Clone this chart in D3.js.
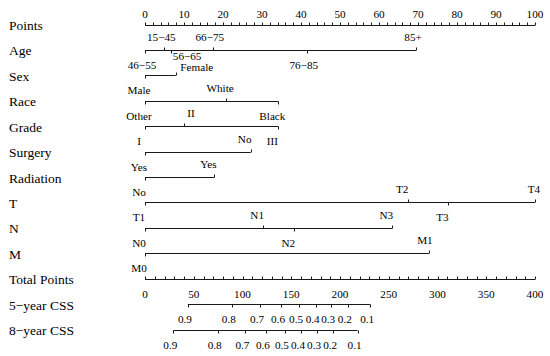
<!DOCTYPE html>
<html><head><meta charset="utf-8">
<script src="https://cdn.jsdelivr.net/npm/d3@7/dist/d3.min.js"></script>
<style>
html,body{margin:0;padding:0;background:#fff;}
svg{display:block;font-family:"Liberation Serif","Times New Roman",serif;}
</style></head>
<body><svg id="chart" width="550" height="356"></svg>
<script>
// ---- data ----
const rowTitles = ["Points","Age","Sex","Race","Grade","Surgery","Radiation","T","N","M","Total Points","5−year CSS","8−year CSS"];
const pointTicks = d3.range(0, 101, 2);
const pointLabels = d3.range(0, 101, 10);
const totalTicks = d3.range(0, 401, 10);
const totalLabels = d3.range(0, 401, 50);

const ageLevels = ["15−45","46−55","56−65","66−75","76−85","85+"];
const agePoints = [4.95, 0, 6.7, 17.4, 41.5, 69.5];
const sexLevels = ["Male","Female"];
const sexPoints = [0, 7.9];
const raceLevels = ["Other","White","Black"];
const racePoints = [0, 20.8, 34.2];
const gradeLevels = ["I","II","III"];
const gradePoints = [0, 10, 34.2];
const surgeryLevels = ["Yes","No"];
const surgeryPoints = [0, 27.1];
const radiationLevels = ["No","Yes"];
const radiationPoints = [0, 17.8];
const tLevels = ["T1","T2","T3","T4"];
const tPoints = [0, 67.5, 77.8, 100];
const nLevels = ["N0","N1","N2","N3"];
const nPoints = [0, 30.3, 38.3, 63.4];
const mLevels = ["M0","M1"];
const mPoints = [0, 72.8];

const cssLabels = ["0.9","0.8","0.7","0.6","0.5","0.4","0.3","0.2","0.1"];
const css5Total = [44, 89, 118, 139.5, 158, 175, 191, 208, 231];
const css8Total = [29, 74.5, 103, 124, 143.5, 160, 176.5, 193, 218];

// ---- layout ----
const svg = d3.select("#chart");
const xPts = d3.scaleLinear().domain([0, 100]).range([145, 535]);
const xTot = d3.scaleLinear().domain([0, 400]).range([145, 535]);
const rowY = d3.scaleLinear().domain([0, 12]).range([24.5, 329.5]);
const ink = "#1a1a1a";
const tick = 3;

// row titles
svg.append("g").selectAll("text").data(rowTitles).join("text")
  .attr("x", 9).attr("y", (d, i) => rowY(i) + 5.5)
  .attr("font-size", 13.5).attr("fill", "#000").text(d => d);

function crisp(v) { return Math.round(v) + 0.5; }

// Points axis (ticks up, labels above)
{
  const y = crisp(rowY(0));
  const g = svg.append("g");
  g.append("line").attr("x1", xPts(0)).attr("x2", xPts(100)).attr("y1", y).attr("y2", y)
    .attr("stroke", ink);
  g.selectAll("line.t").data(pointTicks).join("line").attr("class", "t")
    .attr("x1", d => crisp(xPts(d))).attr("x2", d => crisp(xPts(d)))
    .attr("y1", y).attr("y2", y - tick).attr("stroke", ink);
  g.selectAll("text").data(pointLabels).join("text")
    .attr("x", d => xPts(d)).attr("y", y - 8).attr("text-anchor", "middle")
    .attr("font-size", 11.2).attr("fill", "#000").text(d => d);
}

// Factor axes
const factors = [
  {row: 1, key: "Age", levels: ageLevels, pts: agePoints},
  {row: 2, key: "Sex", levels: sexLevels, pts: sexPoints},
  {row: 3, key: "Race", levels: raceLevels, pts: racePoints},
  {row: 4, key: "Grade", levels: gradeLevels, pts: gradePoints},
  {row: 5, key: "Surgery", levels: surgeryLevels, pts: surgeryPoints},
  {row: 6, key: "Radiation", levels: radiationLevels, pts: radiationPoints},
  {row: 7, key: "T", levels: tLevels, pts: tPoints},
  {row: 8, key: "N", levels: nLevels, pts: nPoints},
  {row: 9, key: "M", levels: mLevels, pts: mPoints}
];
// label nudges (px) to mimic the original text placement
const defaultNudge = {Age: -3};
const nudge = {"Age|56−65": 16, "Sex|Female": 21, "Grade|II": 7, "T|T4": -1, "M|M1": -4};
const nudgeY = {"Age|56−65": -9.5, "Sex|Female": 5.5};

factors.forEach(f => {
  const y = crisp(rowY(f.row));
  const g = svg.append("g");
  const items = f.levels.map((l, i) => ({label: l, p: f.pts[i]}))
    .sort((a, b) => a.p - b.p);
  items.forEach((d, i) => d.up = (i % 2 === 1));
  g.append("line").attr("x1", xPts(0)).attr("x2", xPts(d3.max(f.pts)))
    .attr("y1", y).attr("y2", y).attr("stroke", ink);
  g.selectAll("line.t").data(items).join("line").attr("class", "t")
    .attr("x1", d => crisp(xPts(d.p))).attr("x2", d => crisp(xPts(d.p)))
    .attr("y1", y).attr("y2", d => d.up ? y - tick : y + tick).attr("stroke", ink);
  g.selectAll("text").data(items).join("text")
    .attr("x", d => {
      const k = f.key + "|" + d.label;
      const n = (k in nudge) ? nudge[k] : (f.key in defaultNudge ? defaultNudge[f.key] : -6);
      return xPts(d.p) + n;
    })
    .attr("y", d => {
      const k = f.key + "|" + d.label;
      return (d.up ? y - 10 : y + 18.5) + (nudgeY[k] || 0);
    })
    .attr("text-anchor", "middle").attr("font-size", 11.2).attr("fill", "#000")
    .text(d => d.label);
});

// Total points axis (ticks up, labels below)
{
  const y = crisp(rowY(10));
  const g = svg.append("g");
  g.append("line").attr("x1", xTot(0)).attr("x2", xTot(400)).attr("y1", y).attr("y2", y)
    .attr("stroke", ink);
  g.selectAll("line.t").data(totalTicks).join("line").attr("class", "t")
    .attr("x1", d => crisp(xTot(d))).attr("x2", d => crisp(xTot(d)))
    .attr("y1", y).attr("y2", y - tick).attr("stroke", ink);
  g.selectAll("text").data(totalLabels).join("text")
    .attr("x", d => xTot(d)).attr("y", y + 18.5).attr("text-anchor", "middle")
    .attr("font-size", 11.2).attr("fill", "#000").text(d => d);
}

// Survival axes (ticks down, labels below)
[[11, css5Total], [12, css8Total]].forEach(([row, tot]) => {
  const y = crisp(rowY(row));
  const g = svg.append("g");
  const items = cssLabels.map((l, i) => ({label: l, t: tot[i]}));
  g.append("line").attr("x1", xTot(d3.min(tot))).attr("x2", xTot(d3.max(tot)))
    .attr("y1", y).attr("y2", y).attr("stroke", ink);
  g.selectAll("line.t").data(items).join("line").attr("class", "t")
    .attr("x1", d => crisp(xTot(d.t))).attr("x2", d => crisp(xTot(d.t)))
    .attr("y1", y).attr("y2", y + tick).attr("stroke", ink);
  g.selectAll("text").data(items).join("text")
    .attr("x", d => xTot(d.t) - 3).attr("y", y + 18.5).attr("text-anchor", "middle")
    .attr("font-size", 11.2).attr("fill", "#000").text(d => d.label);
});
</script></body></html>
